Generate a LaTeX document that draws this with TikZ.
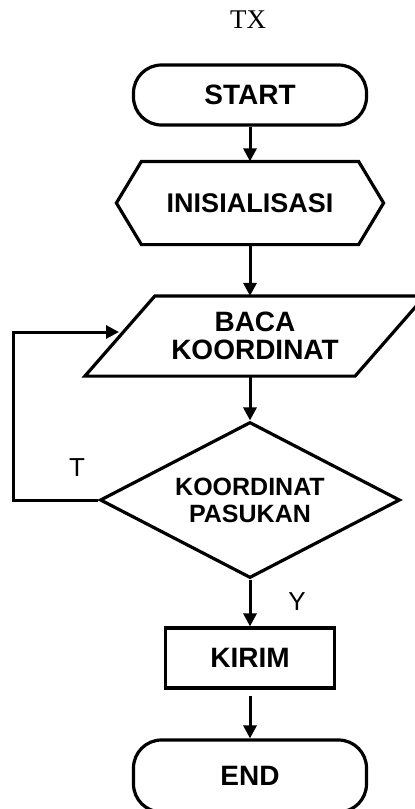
\documentclass[tikz,border=0pt]{standalone}
\usepackage{fontspec}
\setmainfont{Liberation Sans}
\newfontfamily\titlefont{Liberation Serif}
\usetikzlibrary{shapes.geometric,arrows.meta}

\tikzset{
  box/.style={line width=1.6pt, align=center, font=\bfseries\fontsize{14}{14}\selectfont},
  terminal/.style={box, draw, rectangle, rounded corners=14pt, minimum width=116.5pt},
  outline/.style={line width=1.6pt, line join=miter},
  line/.style={line width=1.5pt, -{Triangle[width=6.5pt,length=6.5pt]}},
  tag/.style={font=\fontsize{13}{13}\selectfont},
}

\begin{document}
\begin{tikzpicture}[x=0.5pt, y=-0.5pt]
        \useasboundingbox (0,0) rectangle (415,809);
        \node[font=\titlefont\fontsize{13.5}{14}\selectfont] (title) at (248,20) {TX};

        \node[terminal, minimum height=30pt] (start) at (250,95) {START};
        \node[box, minimum width=107pt, minimum height=40pt, font=\bfseries\fontsize{13.5}{14}\selectfont] (init) at (250,203) {INISIALISASI};
        \node[box, minimum width=133.5pt, minimum height=38.5pt] (read) at (255,336) {BACA\\KOORDINAT};
        \node[box, draw, diamond, aspect=2, minimum width=150pt, minimum height=78pt, inner sep=0pt, font=\bfseries\fontsize{12.5}{13.5}\selectfont] (decide) at (250,500) {KOORDINAT\\PASUKAN};
        \node[box, draw, minimum width=84.5pt, minimum height=30pt] (send) at (250,658) {KIRIM};
        \node[terminal, minimum height=36pt] (stop) at (250,776) {END};

        \draw[outline] ([xshift=-12.5pt]init.west) -- (init.north west) -- (init.north east) -- ([xshift=12.5pt]init.east) -- (init.south east) -- (init.south west) -- cycle;
        \draw[outline] ([xshift=17.5pt]read.north west) -- ([xshift=17.5pt]read.north east) -- ([xshift=-17.5pt]read.south east) -- ([xshift=-17.5pt]read.south west) -- cycle;

        \coordinate (loopin) at (119,332);
        \node[tag] (tlabel) at (77,468) {T};
        \node[tag] (ylabel) at (297,602) {Y};

        \draw[line] (start) -- (init);
        \draw[line] (init.south) -- (init.south |- read.north);
        \draw[line] (read.south -| init.south) -- (decide.north);
        \draw[line] (decide.west) -- ++(-85,0) |- (loopin);
        \draw[line] (decide) -- (send);
        \draw[line, shorten <=3pt] (send) -- (stop);
\end{tikzpicture}
\end{document}
